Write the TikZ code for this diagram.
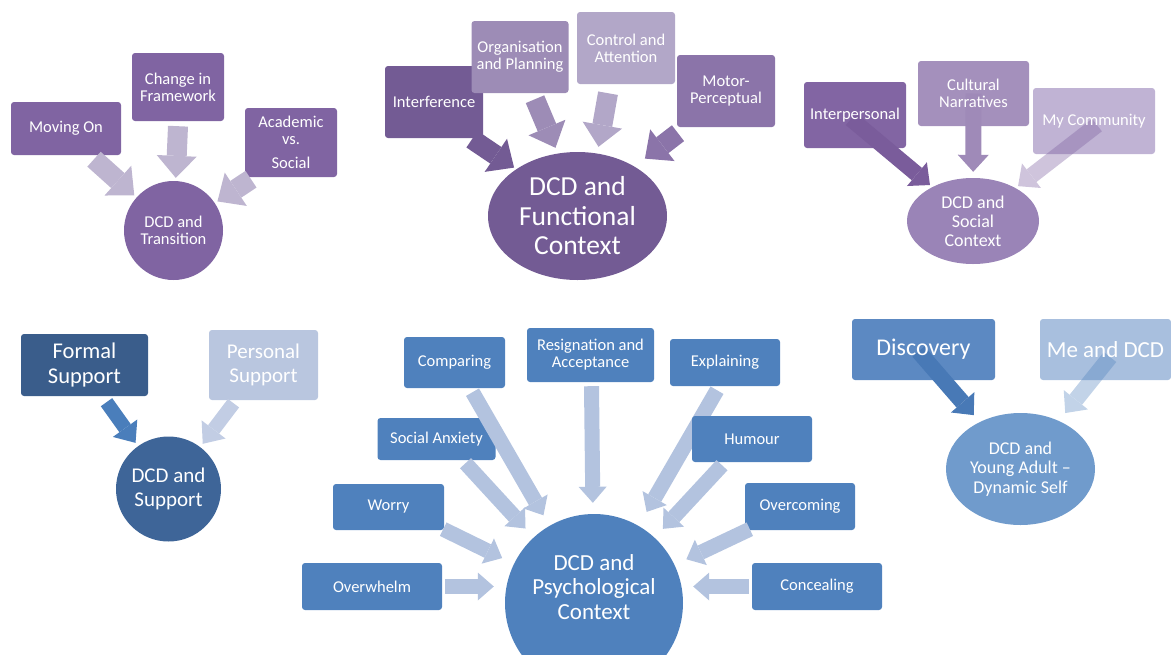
\documentclass[tikz,border=0pt]{standalone}
\usepackage{fontspec}
\setmainfont{Carlito}
\usetikzlibrary{arrows.meta,shapes.geometric}

\definecolor{purBox}{HTML}{8064A2}
\definecolor{purArr}{HTML}{BEB5D0}
\definecolor{funA}{HTML}{735B94}
\definecolor{funB}{HTML}{9D8CB6}
\definecolor{funC}{HTML}{B2A7C8}
\definecolor{funD}{HTML}{8B74A9}
\definecolor{socA}{HTML}{8265A3}
\definecolor{socAarr}{HTML}{7A5C9B}
\definecolor{socB}{HTML}{A490BC}
\definecolor{socBarr}{HTML}{9F8AB8}
\definecolor{socC}{HTML}{C0B3D4}
\definecolor{socE}{HTML}{9A84B7}
\definecolor{supA}{HTML}{3A5D8B}
\definecolor{supB}{HTML}{B9C6DF}
\definecolor{supC}{HTML}{3E6598}
\definecolor{supAarr}{HTML}{4A7EBB}
\definecolor{supBarr}{HTML}{C2CDE4}
\definecolor{psyBox}{HTML}{4F81BD}
\definecolor{psyArr}{HTML}{B3C3DF}
\definecolor{youA}{HTML}{5C89C2}
\definecolor{youAarr}{HTML}{4879B6}
\definecolor{youB}{HTML}{A8BFDE}
\definecolor{youE}{HTML}{709BCC}

\begin{document}
\begin{tikzpicture}[x=1pt, y=-1pt,
    box/.style={rectangle, rounded corners=3pt, fill=#1, text=white, align=center, inner sep=1pt},
    ell/.style={ellipse, fill=#1, text=white, align=center, inner sep=0pt},
    rnd/.style={circle, fill=#1, text=white, align=center, inner sep=0pt},
    txt/.style={text=white, align=center, inner sep=0pt},
    fsm/.style={font=\fontsize{16.5}{17}\selectfont},
    arrA/.style={draw=#1, line width=20pt, -{Triangle[length=22pt,width=40pt,line width=0pt]}},
    arrB/.style={draw=#1, line width=16pt, -{Triangle[length=17pt,width=31pt,line width=0pt]}},
    arrC/.style={draw=#1, line width=15pt, -{Triangle[length=16pt,width=28pt,line width=0pt]}},
    arrD/.style={draw=#1, line width=14pt, -{Triangle[length=18pt,width=30pt,line width=0pt]}}]

    \useasboundingbox (0,0) rectangle (1171,654);

    % Transition
    \node[box=purBox, fsm, minimum width=110pt, minimum height=53pt] (moving) at (66,128.5) {Moving On};
    \node[box=purBox, fsm, minimum width=92pt, minimum height=68pt] (change) at (178,87) {Change in\\Framework};
    \node[box=purBox, fsm, minimum width=92pt, minimum height=69pt] (acad) at (291,142.5) {Academic\\vs.\\[7pt]Social};
    \node[rnd=purBox, fsm, minimum size=99pt] (trans) at (173.5,230.5) {DCD and\\Transition};

    \draw[arrA=purArr, shorten >=3pt] ([shift={(28,4)}]moving.south) -- (trans);
    \draw[arrA=purArr, shorten >=3pt] ([shift={(0,5)}]change.south) -- (trans);
    \draw[arrA=purArr, shorten >=3pt] ([shift={(-40,2)}]acad.south) -- (trans);

    % Functional
    \node[box=funA, fsm, minimum width=98pt, minimum height=72pt] (interf) at (434,102) {Interference};
    \node[box=funB, fsm, minimum width=97pt, minimum height=72pt] (org) at (520,57) {Organisation\\and Planning};
    \node[box=funC, fsm, minimum width=98pt, minimum height=72pt] (ctrl) at (626,48) {Control and\\Attention};
    \node[box=funD, fsm, minimum width=98pt, minimum height=72pt] (motor) at (726,91) {Motor-\\Perceptual};
    \node[ell=funA, font=\fontsize{27.5}{29.5}\selectfont, minimum width=179pt, minimum height=128pt] (func) at (577.5,216) {DCD and\\Functional\\Context};

    \draw[arrA=funA] ([shift={(38,1)}]interf.south) -- ([shift={(0,-3)}]func.north west);
    \draw[arrA=funB] ([shift={(15,6)}]org.south) -- ([shift={(-22,-4)}]func.north);
    \draw[arrA=funC] ([shift={(-18,9)}]ctrl.south) -- ([shift={(21,-5)}]func.north);
    \draw[arrA=funD] ([shift={(-48,6)}]motor.south) -- ([shift={(4,-12)}]func.north east);

    % Social
    \node[box=socA, minimum width=102pt, minimum height=66pt] (inter) at (855,115) {};
    \node[box=socB, minimum width=111pt, minimum height=65pt] (cult) at (973.5,93.5) {};
    \node[box=socC, minimum width=122pt, minimum height=66pt] (comm) at (1094,121) {};
    \node[ell=socE, font=\fontsize{18}{19}\selectfont, minimum width=132pt, minimum height=86pt] (social) at (973,221) {DCD and\\Social\\Context};

    \draw[arrB=socAarr, shorten >=3pt] ([shift={(-4,4)}]inter.center) -- (social);
    \draw[arrB=socBarr, shorten >=6pt] (cult.center) -- (social);
    \begin{scope}[transparency group, opacity=0.38]
        \draw[arrB=purBox, shorten >=3pt] ([shift={(3,4)}]comm.center) -- (social);
    \end{scope}

    \node[txt, fsm] (interT) at (inter) {Interpersonal};
    \node[txt, fsm] (cultT) at (cult) {Cultural\\Narratives};
    \node[txt, fsm] (commT) at (comm) {My Community};

    % Support
    \node[box=supA, font=\fontsize{22.5}{25}\selectfont, minimum width=127pt, minimum height=62pt] (formal) at (84.5,365) {Formal\\Support};
    \node[box=supB, font=\fontsize{21}{24}\selectfont, minimum width=109pt, minimum height=70pt] (personal) at (263.5,365) {Personal\\Support};
    \node[rnd=supC, font=\fontsize{21}{24}\selectfont, minimum size=105pt] (support) at (168.5,489) {DCD and\\Support};

    \draw[arrD=supAarr, shorten >=4pt] ([shift={(22,6)}]formal.south) -- (support);
    \draw[arrD=supBarr, shorten >=4pt] ([shift={(-30,3)}]personal.south) -- (support);

    % Psychological
    \node[rnd=psyBox, minimum size=178pt] (psy) at (594,603) {};
    \node[txt, font=\fontsize{23}{24.5}\selectfont] (psyT) at ([yshift=16pt]psy.center) {DCD and\\Psychological\\Context};

    \node[box=psyBox, fsm, minimum width=110pt, minimum height=47pt] (expl) at (725,362.5) {Explaining};
    \draw[arrC=psyArr, shorten >=16pt] ([shift={(-8,4)}]expl.south) -- (psy);

    \node[box=psyBox, fsm, minimum width=101pt, minimum height=51pt] (comp) at (454.5,362.5) {Comparing};
    \node[box=psyBox, fsm, minimum width=127pt, minimum height=54pt] (resig) at (590.5,355) {Resignation and\\Acceptance};
    \node[box=psyBox, fsm, minimum width=118pt, minimum height=42pt] (sanx) at (436.5,439) {Social Anxiety};
    \node[box=psyBox, fsm, minimum width=120pt, minimum height=46pt] (humour) at (752,439) {Humour};
    \node[box=psyBox, fsm, minimum width=111pt, minimum height=46pt] (worry) at (388.5,507) {Worry};
    \node[box=psyBox, fsm, minimum width=110pt, minimum height=47pt] (overc) at (800,506.5) {Overcoming};
    \node[box=psyBox, fsm, minimum width=140pt, minimum height=47pt] (overw) at (372,586.5) {Overwhelm};
    \node[box=psyBox, fsm, minimum width=130pt, minimum height=47pt] (conceal) at (817,586.5) {Concealing};

    \draw[arrC=psyArr, shorten >=12pt] ([shift={(18,4)}]comp.south) -- (psy);
    \draw[arrC=psyArr, shorten >=11pt] ([shift={(1,4)}]resig.south) -- (psy);
    \draw[arrC=psyArr, shorten >=12pt] ([shift={(29,3)}]sanx.south) -- (psy);
    \draw[arrC=psyArr, shorten >=12pt] ([shift={(-30,3)}]humour.south) -- (psy);
    \draw[arrC=psyArr, shorten >=13pt] ([shift={(-1,-1)}]worry.south east) -- (psy);
    \draw[arrC=psyArr, shorten >=13pt] ([shift={(5,-1)}]overc.south west) -- (psy);
    \draw[arrC=psyArr, shorten <=3pt, shorten >=11pt] (overw.east) -- (overw -| psy.west);
    \draw[arrC=psyArr, shorten <=3pt, shorten >=10pt] (conceal.west) -- (conceal -| psy.east);

    % Young adult
    \node[box=youA, minimum width=143pt, minimum height=61pt] (disc) at (923.5,349.5) {};
    \node[box=youB, minimum width=131pt, minimum height=61pt] (medcd) at (1105.5,349.5) {};
    \node[ell=youE, font=\fontsize{18}{19.5}\selectfont, minimum width=149pt, minimum height=112pt] (young) at (1020.5,469) {DCD and\\Young Adult --\\Dynamic Self};

    \draw[arrB=youAarr, shorten >=9pt] ([shift={(-5,2)}]disc.center) -- (young);
    \begin{scope}[transparency group, opacity=0.35]
        \draw[arrB=psyBox, shorten >=10pt] ([shift={(4.5,7.5)}]medcd.center) -- (young);
    \end{scope}

    \node[txt, font=\fontsize{24}{26}\selectfont] (discT) at (disc) {Discovery};
    \node[txt, font=\fontsize{23}{25}\selectfont] (medcdT) at (medcd) {Me and DCD};

\end{tikzpicture}
\end{document}
